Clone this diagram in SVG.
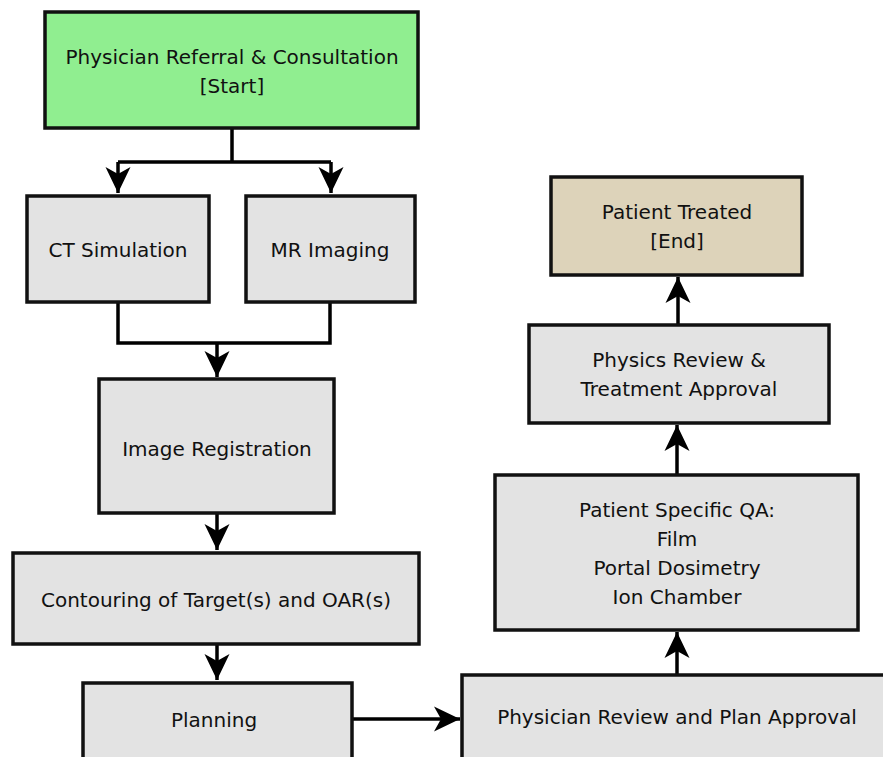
<svg xmlns="http://www.w3.org/2000/svg" width="883" height="757" viewBox="0 0 883 757">
<style>
.box{stroke:#111;stroke-width:3.5}
.g{fill:#e3e3e3}
.t{font-family:"DejaVu Sans","Liberation Sans",sans-serif;font-size:20px;fill:#111;text-anchor:middle;dominant-baseline:central}
.c{fill:none;stroke:#000;stroke-width:3.5}
</style>
<defs>
<marker id="ah" markerUnits="userSpaceOnUse" viewBox="-27 -14 28 28" refX="0" refY="0" markerWidth="28" markerHeight="28" orient="auto">
<polygon points="0,0 -26,-12.5 -19,0 -26,12.5" fill="#000"/>
</marker>
</defs>
<rect width="883" height="757" fill="#fff"/>
<g id="connectors">
<path class="c" d="M232,128 V162 M118,162 H331" />
<path class="c" d="M118,162 V193" marker-end="url(#ah)"/>
<path class="c" d="M331,162 V193" marker-end="url(#ah)"/>
<path class="c" d="M118,302 V343 H330 V302"/>
<path class="c" d="M217,343 V377" marker-end="url(#ah)"/>
<path class="c" d="M217,513 V550" marker-end="url(#ah)"/>
<path class="c" d="M217,644 V680" marker-end="url(#ah)"/>
<path class="c" d="M352,719 H460" marker-end="url(#ah)"/>
<path class="c" d="M677,674 V632" marker-end="url(#ah)"/>
<path class="c" d="M677,474 V425" marker-end="url(#ah)"/>
<path class="c" d="M678,324 V277" marker-end="url(#ah)"/>
</g>
<g id="start">
<rect class="box" x="45" y="12" width="373" height="116" fill="#90ee90"/>
<text class="t" x="232" y="57">Physician Referral &amp; Consultation</text>
<text class="t" x="232" y="86">[Start]</text>
</g>
<g id="ct">
<rect class="box g" x="27" y="196" width="182" height="106"/>
<text class="t" x="118" y="250">CT Simulation</text>
</g>
<g id="mr">
<rect class="box g" x="246" y="196" width="169" height="106"/>
<text class="t" x="330" y="250">MR Imaging</text>
</g>
<g id="registration">
<rect class="box g" x="99" y="379" width="235" height="134"/>
<text class="t" x="217" y="449">Image Registration</text>
</g>
<g id="contouring">
<rect class="box g" x="13" y="553" width="406" height="91"/>
<text class="t" x="216" y="600">Contouring of Target(s) and OAR(s)</text>
</g>
<g id="planning">
<rect class="box g" x="83" y="683" width="269" height="80"/>
<text class="t" x="214" y="720">Planning</text>
</g>
<g id="review">
<rect class="box g" x="462" y="675" width="430" height="90"/>
<text class="t" x="677" y="717">Physician Review and Plan Approval</text>
</g>
<g id="qa">
<rect class="box g" x="495" y="475" width="363" height="155"/>
<text class="t" x="677" y="510">Patient Specific QA:</text>
<text class="t" x="677" y="539">Film</text>
<text class="t" x="677" y="568">Portal Dosimetry</text>
<text class="t" x="677" y="597">Ion Chamber</text>
</g>
<g id="physics">
<rect class="box g" x="529" y="325" width="300" height="98"/>
<text class="t" x="679" y="360">Physics Review &amp;</text>
<text class="t" x="679" y="389">Treatment Approval</text>
</g>
<g id="end">
<rect class="box" x="551" y="177" width="251" height="98" fill="#ddd3ba"/>
<text class="t" x="677" y="212">Patient Treated</text>
<text class="t" x="677" y="241">[End]</text>
</g>
</svg>
